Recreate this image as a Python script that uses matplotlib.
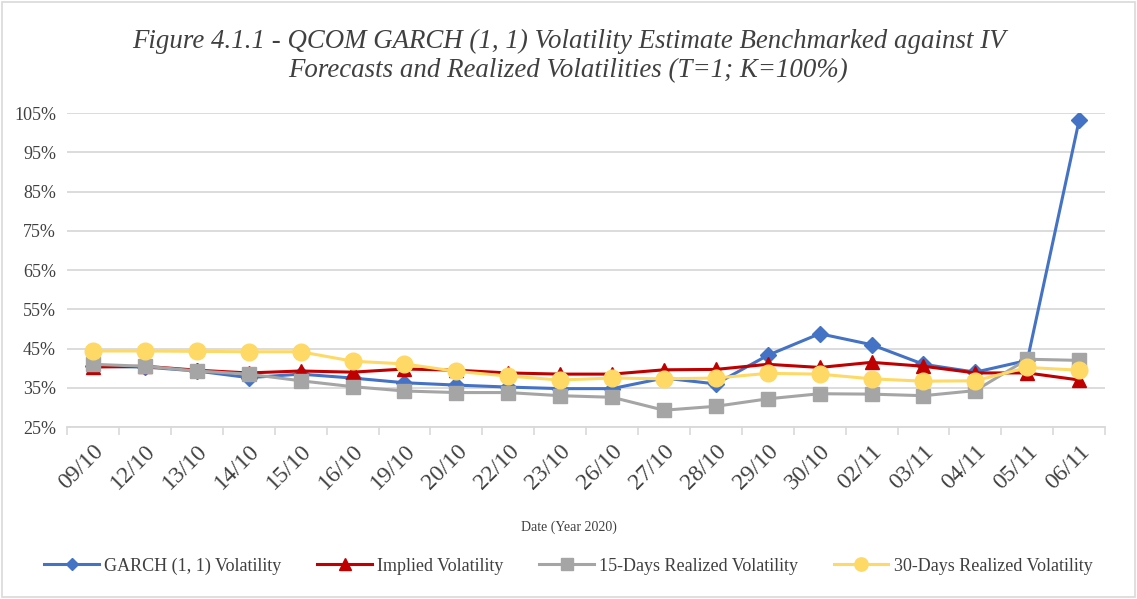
import matplotlib
matplotlib.use("Agg")
import matplotlib.pyplot as plt
from matplotlib.patches import Rectangle
import numpy as np

dates = ["09/10", "12/10", "13/10", "14/10", "15/10", "16/10", "19/10", "20/10", "22/10", "23/10",
         "26/10", "27/10", "28/10", "29/10", "30/10", "02/11", "03/11", "04/11", "05/11", "06/11"]
garch = [40.5, 40.3, 39.3, 37.6, 38.5, 37.5, 36.3, 35.7, 35.2, 34.8,
         34.8, 37.5, 36.0, 43.3, 48.8, 46.0, 41.0, 39.0, 42.0, 103.3]
implied = [40.3, 40.5, 39.5, 38.8, 39.3, 39.0, 39.8, 39.5, 38.8, 38.5,
           38.5, 39.6, 39.7, 41.0, 40.2, 41.5, 40.5, 38.8, 38.8, 37.0]
rv15 = [41.0, 40.5, 39.3, 38.5, 36.8, 35.3, 34.2, 33.8, 33.8, 33.0,
        32.6, 29.3, 30.3, 32.2, 33.5, 33.4, 33.0, 34.3, 42.3, 42.0]
rv30 = [44.4, 44.4, 44.3, 44.2, 44.2, 41.8, 41.1, 39.2, 38.0, 37.0,
        37.5, 37.3, 37.5, 38.7, 38.5, 37.3, 36.7, 36.8, 40.2, 39.5]
yticks = [25, 35, 45, 55, 65, 75, 85, 95, 105]

plt.rcParams['font.family'] = ['Liberation Serif', 'DejaVu Serif']

fig = plt.figure(figsize=(11.37, 5.99), dpi=100)
ax = fig.add_axes([0.059, 0.287, 0.913, 0.524])

x = np.arange(len(dates))
ax.plot(x, garch, color="#4472C4", lw=2.2, marker="D", ms=8, label="GARCH (1, 1) Volatility", zorder=3)
ax.plot(x, implied, color="#C00000", lw=2.2, marker="^", ms=10, label="Implied Volatility", zorder=3)
ax.plot(x, rv15, color="#A5A5A5", lw=2.2, marker="s", ms=10, label="15-Days Realized Volatility", zorder=3)
ax.plot(x, rv30, color="#FFD966", lw=2.2, marker="o", ms=12, label="30-Days Realized Volatility", zorder=3)

ax.set_xlim(-0.5, len(dates) - 0.5)
ax.set_ylim(25, 105)
ax.set_yticks(yticks)
ax.set_yticklabels([f"{v}%" for v in yticks], fontsize=13, color="#404040")
ax.yaxis.grid(True, color="#D9D9D9", lw=1.3)
ax.set_axisbelow(True)
ax.tick_params(axis="y", length=0, pad=8)

ax.set_xticks(x)
ax.set_xticklabels(dates, rotation=45, ha="right", rotation_mode="anchor", fontsize=17, color="#404040")
ax.set_xticks(np.arange(-0.5, len(dates)), minor=True)
ax.tick_params(axis="x", which="major", length=0, pad=10)
ax.tick_params(axis="x", which="minor", length=6, color="#D9D9D9", width=1.2)

for s in ["top", "right", "left"]:
    ax.spines[s].set_visible(False)
ax.spines["bottom"].set_color("#D9D9D9")
ax.spines["bottom"].set_linewidth(1.3)

fig.text(0.5, 0.907, "Figure 4.1.1 - QCOM GARCH (1, 1) Volatility Estimate Benchmarked against IV\nForecasts and Realized Volatilities (T=1; K=100%)",
         ha="center", va="center", fontsize=19.4, style="italic", color="#404040", linespacing=1.2)
fig.text(0.5, 0.12, "Date (Year 2020)", ha="center", va="center", fontsize=10, color="#404040")

leg = fig.legend(loc="center", bbox_to_anchor=(0.5, 0.055), ncol=4, frameon=False,
                 fontsize=13, handlelength=3, columnspacing=2.0, handletextpad=0.3, markerscale=0.8)
for t in leg.get_texts():
    t.set_color("#404040")

fig.patches.append(Rectangle((0.002, 0.003), 0.996, 0.994, transform=fig.transFigure,
                             fill=False, edgecolor="#D9D9D9", lw=1.2))

fig.savefig("out.png", dpi=100)
